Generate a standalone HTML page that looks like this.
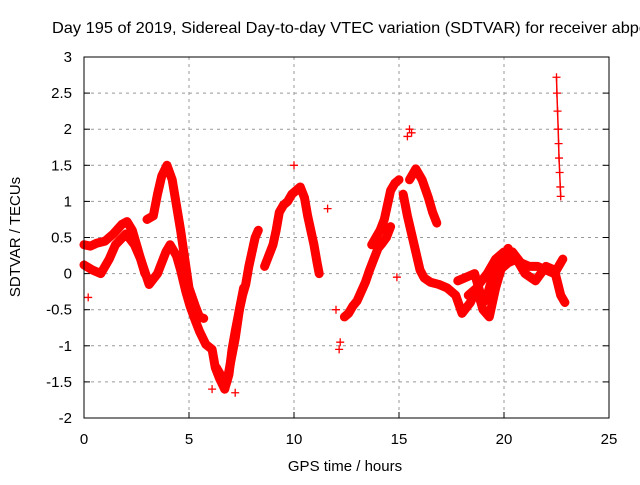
<!DOCTYPE html>
<html><head><meta charset="utf-8"><style>
body{margin:0;background:#fff}
svg text{font-family:"Liberation Sans",sans-serif;font-size:15px;fill:#000}
</style></head><body>
<svg id="c" width="640" height="480">
<text x="52" y="33" textLength="596" lengthAdjust="spacingAndGlyphs" style="font-size:16px">Day 195 of 2019, Sidereal Day-to-day VTEC variation (SDTVAR) for receiver abpo</text>
<text x="345" y="471" text-anchor="middle">GPS time / hours</text>
<text transform="translate(20,237) rotate(-90)" text-anchor="middle">SDTVAR / TECUs</text>
<g id="grid"></g><g id="data"></g>
<rect x="84" y="57" width="525" height="361" fill="none" stroke="#000" stroke-width="1"/>
</svg>
<script>
const xTicks=[0,5,10,15,20,25];
const yTicks=[-2,-1.5,-1,-0.5,0,0.5,1,1.5,2,2.5,3];
const yLabels=["-2","-1.5","-1","-0.5","0","0.5","1","1.5","2","2.5","3"];
const seriesA_t=[0,0.3,0.6,1,1.4,1.8,2.05,2.3,2.6,2.9];
const seriesA_v=[0.4,0.38,0.42,0.45,0.55,0.68,0.72,0.6,0.3,0.0];
const seriesB_t=[3.0,3.3,3.5,3.7,3.95,4.2,4.4,4.6,4.8,5.0,5.3,5.5,5.7];
const seriesB_v=[0.75,0.8,1.1,1.35,1.5,1.3,0.95,0.6,0.2,-0.2,-0.45,-0.6,-0.62];
const seriesC_t=[0,0.4,0.8,1.2,1.5,2,2.4,2.7,3.1,3.5,3.9,4.1,4.4,4.6,4.85,5.05,5.3,5.5,5.8,6.1,6.25,6.45,6.7];
const seriesC_v=[0.12,0.05,0.0,0.2,0.4,0.55,0.4,0.2,-0.15,0.0,0.3,0.4,0.25,0.05,-0.25,-0.45,-0.65,-0.8,-0.98,-1.05,-1.3,-1.45,-1.6];
const seriesD_t=[6.7,6.9,7.05,7.2,7.4,7.55,7.7,7.85,8.0,8.15,8.3];
const seriesD_v=[-1.6,-1.4,-1.05,-0.8,-0.5,-0.3,-0.15,0.1,0.3,0.5,0.6];
const seriesD2_t=[6.3,6.5,6.8,7.0,7.2,7.4,7.6];
const seriesD2_v=[-1.3,-1.4,-1.5,-1.2,-0.9,-0.5,-0.2];
const seriesE_t=[8.6,8.8,9.0,9.15,9.3,9.5,9.7,9.9,10.1,10.3,10.5,10.65,10.8,10.95,11.1,11.2];
const seriesE_v=[0.1,0.25,0.4,0.6,0.85,0.95,1.0,1.1,1.15,1.2,1.05,0.8,0.6,0.4,0.15,0.0];
const seriesF_t=[12.4,12.6,12.8,13.0,13.2,13.4,13.6,13.8,14.0,14.2,14.4,14.6];
const seriesF_v=[-0.6,-0.55,-0.45,-0.38,-0.25,-0.12,0.05,0.2,0.35,0.42,0.5,0.65];
const seriesG_t=[13.7,13.9,14.1,14.3,14.6,14.8,15.0];
const seriesG_v=[0.4,0.5,0.6,0.75,1.15,1.25,1.3];
const seriesH_t=[15.2,15.4,15.6,15.8,16.0,16.2,16.5,16.9,17.3,17.7,18.0,18.4,18.8,19.2,19.6,20.0];
const seriesH_v=[1.1,0.8,0.55,0.3,0.05,-0.06,-0.12,-0.15,-0.2,-0.3,-0.55,-0.4,-0.15,0.0,0.2,0.3];
const seriesI_t=[15.5,15.8,16.1,16.4,16.6,16.8];
const seriesI_v=[1.3,1.45,1.3,1.05,0.85,0.7];
const seriesJ_t=[17.8,18.2,18.6,19.0,19.4,19.8,20.2,20.6,21.0,21.5,22.0,22.4,22.7,22.9];
const seriesJ_v=[-0.1,-0.05,0.0,-0.4,-0.3,0.05,0.15,0.2,0.0,-0.1,0.1,0.05,-0.3,-0.4];
const seriesK_t=[19.2,19.6,20.0,20.4,20.8,21.2,21.6,22.0,22.4,22.8];
const seriesK_v=[-0.3,0.1,0.25,0.3,0.15,0.1,0.1,0.05,0.0,0.2];
const seriesM_t=[18.3,18.7,19.0,19.3,19.6,19.9,20.2];
const seriesM_v=[-0.3,-0.2,-0.5,-0.6,-0.2,0.1,0.35];
const seriesL_t=[22.5,22.52,22.55,22.58,22.6,22.62,22.65,22.68,22.7];
const seriesL_v=[2.72,2.5,2.25,2.0,1.8,1.6,1.4,1.2,1.07];
const isoT=[0.2,6.1,7.2,10.0,11.6,12.0,12.2,12.15,14.9,15.5,15.6,15.4];
const isoV=[-0.33,-1.6,-1.65,1.5,0.9,-0.5,-0.95,-1.05,-0.05,2.0,1.95,1.9];
const X=t=>84+21*t, Y=v=>57+(3-v)*72.2;
const NS="http://www.w3.org/2000/svg";
const grid=document.getElementById('grid'), dg=document.getElementById('data');
function mk(tag,a,p){const e=document.createElementNS(NS,tag);for(const k in a)e.setAttribute(k,a[k]);p.appendChild(e);return e;}
xTicks.forEach((t,i)=>{
 if(t>0&&t<25){const l=mk('line',{x1:X(t),x2:X(t),y1:57,y2:418,stroke:'#999','stroke-dasharray':'3,4'},grid);
 
 }
 const tx=mk('text',{x:X(t),y:444,'text-anchor':'middle'},grid);tx.textContent=t;
 
 
 mk('line',{x1:X(t),x2:X(t),y1:418,y2:412,stroke:'#000'},grid);
});
yTicks.forEach((v,i)=>{
 if(v>-2&&v<3){const l=mk('line',{x1:84,x2:609,y1:Y(v),y2:Y(v),stroke:'#999','stroke-dasharray':'3,4'},grid);
 
 }
 const tx=mk('text',{x:72,y:Y(v)+5,'text-anchor':'end'},grid);tx.textContent=yLabels[i];
 
 
 mk('line',{x1:84,x2:90,y1:Y(v),y2:Y(v),stroke:'#000'},grid);
 mk('line',{x1:609,x2:603,y1:Y(v),y2:Y(v),stroke:'#000'},grid);
});
function plus(t,v){const x=X(t),y=Y(v);
 const p=mk('path',{d:`M${x-4} ${y}H${x+4}M${x} ${y-4}V${y+4}`,stroke:'red','stroke-width':1.3,fill:'none'},dg);
 
 }
const all=[[seriesA_t,seriesA_v],[seriesB_t,seriesB_v],[seriesC_t,seriesC_v],[seriesD_t,seriesD_v],[seriesD2_t,seriesD2_v],[seriesE_t,seriesE_v],[seriesF_t,seriesF_v],[seriesG_t,seriesG_v],[seriesH_t,seriesH_v],[seriesI_t,seriesI_v],[seriesJ_t,seriesJ_v],[seriesK_t,seriesK_v],[seriesM_t,seriesM_v]];
all.forEach(([ts,vs])=>{
 const pl=mk('polyline',{points:ts.map((t,i)=>X(t)+','+Y(vs[i])).join(' '),stroke:'red','stroke-width':9,fill:'none','stroke-linejoin':'round','stroke-linecap':'round'},dg);
 
 
 ts.forEach((t,i)=>plus(t,vs[i]));
});
const vl=mk('polyline',{points:seriesL_t.map((t,i)=>X(t)+','+Y(seriesL_v[i])).join(' '),stroke:'red','stroke-width':1.5,fill:'none'},dg);


seriesL_t.forEach((t,i)=>plus(t,seriesL_v[i]));
isoT.forEach((t,i)=>plus(t,isoV[i]));
</script>
</body></html>
